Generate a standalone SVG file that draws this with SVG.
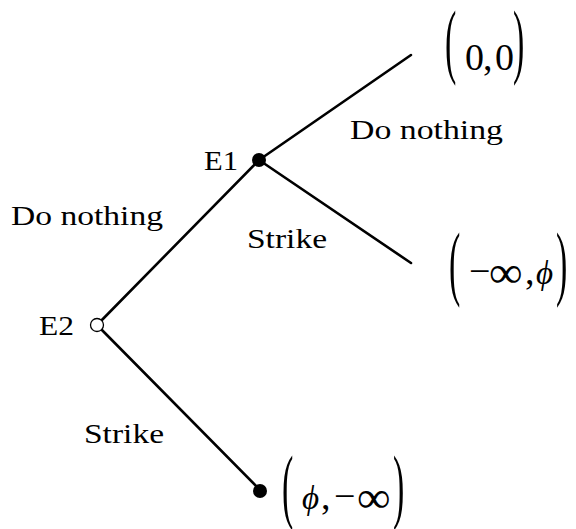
<svg xmlns="http://www.w3.org/2000/svg" width="576" height="529" viewBox="0 0 576 529">
<style>
.lbl{font-family:"Liberation Serif","DejaVu Serif",serif;font-size:28px;fill:#000}
.m{font-family:"Liberation Serif","DejaVu Serif",serif;font-size:38px;fill:#000}
.inf{font-family:"Liberation Serif","DejaVu Serif",serif;font-size:40px;fill:#000}
.phi{font-family:"Liberation Serif","DejaVu Serif",serif;font-size:33px;font-style:italic;fill:#000}
.paren{font-family:"Liberation Serif","DejaVu Serif",serif;font-size:34px;fill:#000}
.edge{stroke:#000;stroke-width:2.6;fill:none;stroke-linecap:round}
</style>
<rect width="576" height="529" fill="#fff"/>
<g id="connectors">
<line class="edge" x1="97" y1="325" x2="259" y2="160"/>
<line class="edge" x1="259" y1="160" x2="411" y2="55"/>
<line class="edge" x1="259" y1="160" x2="411" y2="263"/>
<line class="edge" x1="97" y1="325" x2="260" y2="490"/>
</g>
<g id="E1">
<circle cx="259" cy="160" r="7" fill="#000"/>
<text class="lbl" x="204" y="170" textLength="34" lengthAdjust="spacingAndGlyphs">E1</text>
</g>
<g id="E2">
<circle cx="97" cy="325" r="6.5" fill="#fff" stroke="#000" stroke-width="1.3"/>
<text class="lbl" x="39" y="335" textLength="35" lengthAdjust="spacingAndGlyphs">E2</text>
</g>
<g id="end-bottom">
<circle cx="260" cy="491" r="7" fill="#000"/>
</g>
<g id="labels">
<text class="lbl" x="11" y="225" textLength="152" lengthAdjust="spacingAndGlyphs">Do nothing</text>
<text class="lbl" x="350" y="139" textLength="153" lengthAdjust="spacingAndGlyphs">Do nothing</text>
<text class="lbl" x="247" y="248" textLength="80" lengthAdjust="spacingAndGlyphs">Strike</text>
<text class="lbl" x="84" y="443" textLength="80" lengthAdjust="spacingAndGlyphs">Strike</text>
</g>
<g id="payoff-00">
<text class="paren" transform="translate(445,68) scale(1,2.45)">(</text>
<text class="m" x="465" y="70">0</text>
<text class="m" x="483" y="70">,</text>
<text class="m" x="495" y="70">0</text>
<text class="paren" transform="translate(513,68) scale(1,2.45)">)</text>
</g>
<g id="payoff-minf-phi">
<text class="paren" transform="translate(449,290) scale(1,2.45)">(</text>
<text class="m" x="469" y="284">−</text>
<text class="inf" transform="translate(489,287) scale(1.18,1.1)">∞</text>
<text class="m" x="525" y="284">,</text>
<text class="phi" x="536" y="284">ϕ</text>
<text class="paren" transform="translate(556,290) scale(1,2.45)">)</text>
</g>
<g id="payoff-phi-minf">
<text class="paren" transform="translate(282,513) scale(1,2.45)">(</text>
<text class="phi" x="302" y="509">ϕ</text>
<text class="m" x="321" y="509">,</text>
<text class="m" x="334" y="509">−</text>
<text class="inf" transform="translate(357,512) scale(1.18,1.1)">∞</text>
<text class="paren" transform="translate(393,513) scale(1,2.45)">)</text>
</g>
</svg>
